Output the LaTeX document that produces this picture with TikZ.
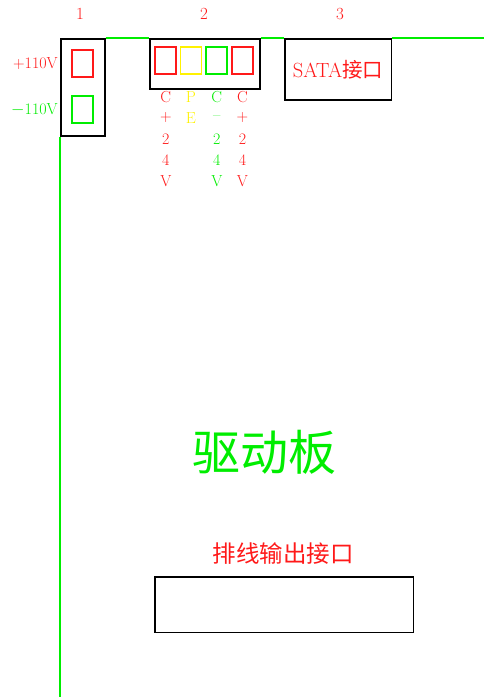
\documentclass[tikz,border=0pt]{standalone}
\usepackage{fontspec}
\newfontfamily\cjk{Noto Sans CJK SC}
\usetikzlibrary{positioning}
\definecolor{mred}{rgb}{1, 0.1, 0.1}
\definecolor{mgreen}{rgb}{0, 0.93, 0}
\definecolor{myellow}{rgb}{1, 0.95, 0}
\tikzset{box/.style = {draw, line width = 1.6pt, inner sep = 0, anchor = north west}}
\tikzset{pin/.style = {draw, line width = 1.8pt, inner sep = 0, minimum width = 21pt, minimum height = 27pt}}
\tikzset{lbl/.style = {inner sep = 0, font = \fontsize{16}{18}\selectfont}}
\tikzset{edge/.style = {draw = mgreen, line width = 1.6pt}}

\begin{document}
\begin{tikzpicture}[x=1pt, y=-1pt]
    \useasboundingbox (0, 0) rectangle (484, 697);

    % board edges
    \coordinate (top) at (484, 38);
    \coordinate (bot) at (60, 697);

    % connector 1
    \node (conna) [box, minimum width = 44pt, minimum height = 97pt] at (60, 38) {};
    \node (pinp) [pin, draw = mred] at (82.2, 63.5) {};
    \node (pinm) [pin, draw = mgreen] at (82.2, 109.5) {};
    \node (numa) [lbl, text = mred, font = \fontsize{17}{19}\selectfont] at (80, 14) {1};
    \node (volp) [lbl, text = mred, anchor = east] at (58, 64) {+110V};
    \node (volm) [lbl, text = mgreen, anchor = east] at (58, 110) {$-$110V};

    % connector 2
    \node (connb) [box, minimum width = 110pt, minimum height = 50pt] at (149, 38) {};
    \foreach \c/\x [count = \i] in {mred/165.8, myellow/191, mgreen/216.8, mred/242.5}
      \node (pb\i) [pin, draw = \c] at (\x, 60.8) {};
    \node (numb) [lbl, text = mred, font = \fontsize{17}{19}\selectfont] at (204, 14) {2};

    \foreach \ch [count = \r] in {C, +, 2, 4, V}
      \node (la\r) [lbl, text = mred] at (165.8, 76 + 21 * \r) {\ch};
    \foreach \ch [count = \r] in {P, E}
      \node (lb\r) [lbl, text = myellow] at (191, 76 + 21 * \r) {\ch};
    \foreach \ch [count = \r] in {C, {--}, 2, 4, V}
      \node (lc\r) [lbl, text = mgreen] at (216.8, 76 + 21 * \r) {\ch};
    \foreach \ch [count = \r] in {C, +, 2, 4, V}
      \node (ld\r) [lbl, text = mred] at (242.5, 76 + 21 * \r) {\ch};

    % connector 3
    \node (connc) [box, minimum width = 106.5pt, minimum height = 61pt] at (284, 38) {};
    \node (sata) [lbl, text = mred, font = \fontsize{20.5}{22}\selectfont] at (connc.center) {SATA{\cjk 接口}};
    \node (numc) [lbl, text = mred, font = \fontsize{17}{19}\selectfont] at (340, 14) {3};

    \draw [edge] (conna.north east) -- (connb.north west);
    \draw [edge] (connb.north east) -- (connc.north west);
    \draw [edge] (connc.north east) -- (top);
    \draw [edge] (conna.south west) -- (bot);

    % board name
    \node (board) [lbl, text = mgreen, font = \cjk\fontsize{48}{50}\selectfont] at (264, 452) {驱动板};

    % ribbon output
    \node (ribtext) [lbl, text = mred, font = \cjk\fontsize{23.5}{26}\selectfont] at (283, 554) {排线输出接口};
    \node (rib) [box, minimum width = 258.5pt, minimum height = 55.5pt] at (154, 576) {};
  \end{tikzpicture}
\end{document}
